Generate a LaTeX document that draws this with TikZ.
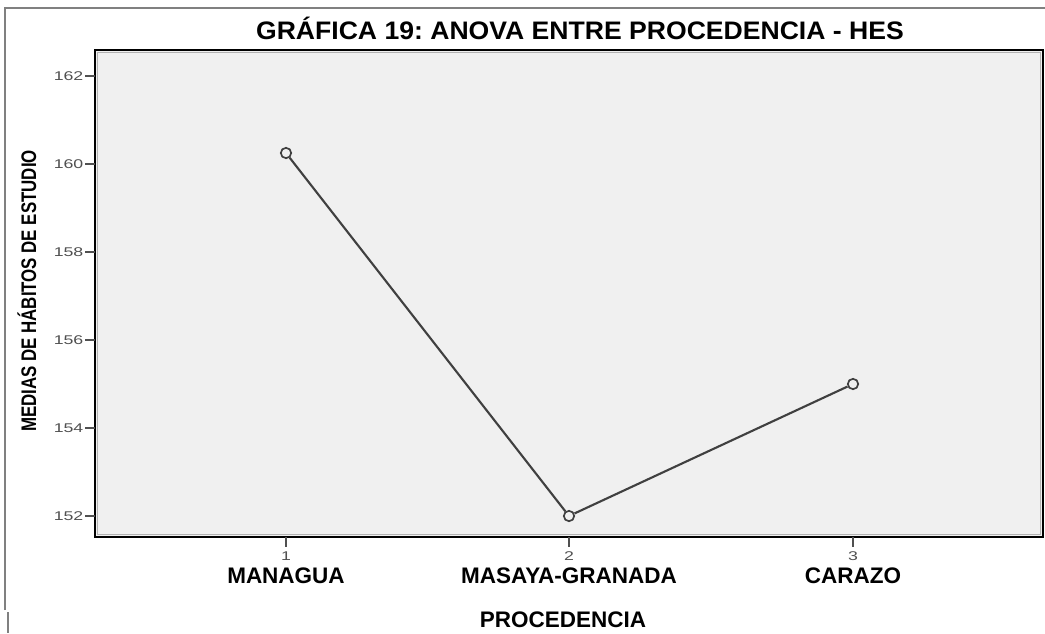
\documentclass[tikz,border=0pt]{standalone}
\usepackage{fontspec}
\setmainfont{Liberation Sans}
\newfontfamily\narrowfont[FakeStretch=0.8]{Liberation Sans}
\newfontfamily\widefont[FakeStretch=1.05]{Liberation Sans}
\newfontfamily\tickfont[FakeStretch=1.4]{Liberation Sans}
\frenchspacing
\usepackage{tikz}
\pgfdeclarelayer{background}
\pgfdeclarelayer{foreground}
\pgfsetlayers{background,main,foreground}
\definecolor{plotbg}{HTML}{F0F0F0}
\definecolor{meanline}{HTML}{404040}
\definecolor{ticktext}{HTML}{505050}
\tikzset{
  mean/.style={circle,draw=meanline,line width=1.2pt,fill=plotbg,inner sep=0pt,minimum size=0.26cm},
  meanconn/.style={draw=meanline,line width=1.5pt},
  ticklabel/.style={font=\fontsize{9}{10}\selectfont\tickfont,text=ticktext,inner sep=1pt},
  catlabel/.style={font=\fontsize{16}{17}\selectfont\bfseries,inner sep=0pt},
}

\begin{document}
\begin{tikzpicture}[x=0.025cm,y=-0.025cm]
\useasboundingbox (0,0) rectangle (1045,633);
\begin{pgfonlayer}{background}
\fill[white] (0,0) rectangle (1045,633);
\draw[gray,line width=1.2pt] (5,610) -- (5,8) -- (1045,8);
\draw[gray,line width=1.2pt] (8,612) -- (8,633);
\fill[plotbg] (95,50) rectangle (1043,537);
\draw[gray!60,line width=0.6pt] (97.5,52.5) rectangle (1040.5,534.5);
\end{pgfonlayer}
\node[font=\fontsize{18}{19}\selectfont\widefont\bfseries] (title) at (580,28) {GRÁFICA 19: ANOVA ENTRE PROCEDENCIA - HES};
\draw[line width=1.6pt] (95,50) rectangle (1043,537);
\foreach \v in {152,154,...,162}{
  \draw[line width=0.8pt,ticktext] (85,{516-(\v-152)*44}) -- (95,{516-(\v-152)*44});
  \node[ticklabel,anchor=east] (ytick\v) at (85,{516-(\v-152)*44}) {\v};
}
\foreach \i/\x/\lab/\nm in {1/286/MANAGUA/managua,2/569/MASAYA-GRANADA/masaya,3/853/CARAZO/carazo}{
  \draw[line width=0.8pt,ticktext] (\x,537) -- (\x,547);
  \node[ticklabel] (xtick\i) at (\x,556) {\i};
  \node[catlabel] (cat\nm) at (\x,576) {\lab};
}
\node[catlabel] (xtitle) at (563,620) {PROCEDENCIA};
\node[font=\fontsize{15}{16}\selectfont\narrowfont\bfseries,rotate=90] (ytitle) at (27,291) {MEDIAS DE HÁBITOS DE ESTUDIO};
\begin{pgfonlayer}{foreground}
\node[mean] (managua) at (286,{516-(160.25-152)*44}) {};
\node[mean] (masaya) at (569,516) {};
\node[mean] (carazo) at (853,{516-(155-152)*44}) {};
\end{pgfonlayer}
\draw[meanconn] (managua) -- (masaya) -- (carazo);
\end{tikzpicture}
\end{document}
